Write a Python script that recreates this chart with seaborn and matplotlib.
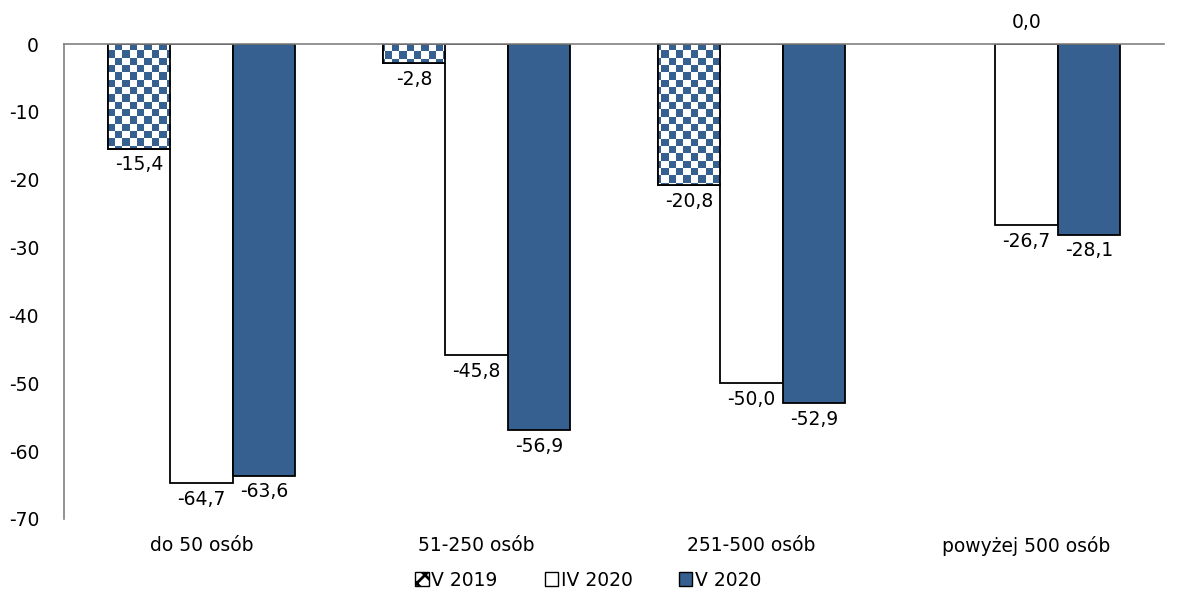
import numpy as np
import pandas as pd
import matplotlib
matplotlib.use("Agg")
import matplotlib.pyplot as plt
import matplotlib.patches as mpatches
from matplotlib.colors import ListedColormap
import seaborn as sns

categories = ["do 50 osób", "51-250 osób", "251-500 osób", "powyżej 500 osób"]
series_names = ["V 2019", "IV 2020", "V 2020"]
v2019 = [-15.4, -2.8, -20.8, 0.0]
iv2020 = [-64.7, -45.8, -50.0, -26.7]
v2020 = [-63.6, -56.9, -52.9, -28.1]
yticks = [0, -10, -20, -30, -40, -50, -60, -70]

BLUE = "#36608F"
FS = 13.5

rows = []
for name, vals in zip(series_names, [v2019, iv2020, v2020]):
    for c, v in zip(categories, vals):
        rows.append({"cat": c, "series": name, "val": v})
df = pd.DataFrame(rows)

sns.set_theme(style="white")
plt.rcParams["font.family"] = ["DejaVu Sans"]
plt.rcParams["text.color"] = "black"
plt.rcParams["xtick.color"] = "black"
plt.rcParams["ytick.color"] = "black"
plt.rcParams["hatch.color"] = BLUE
plt.rcParams["hatch.linewidth"] = 2.0

fig = plt.figure(figsize=(11.77, 6.02), dpi=100)
ax = fig.add_axes([64/1177, 1-519/602, 1100/1177, 475/602])

palette = {"V 2019": "white", "IV 2020": "white", "V 2020": BLUE}
sns.barplot(data=df, x="cat", y="val", hue="series", order=categories,
            hue_order=series_names, palette=palette, width=0.68, gap=0,
            edgecolor="black", linewidth=1.3, saturation=1, ax=ax,
            legend=False, errorbar=None)

ax.set_ylim(-70, 0)
ax.set_xlim(-0.5, 3.5)
ax.set_yticks(yticks)
ax.set_yticklabels([str(t) for t in yticks], fontsize=FS)
ax.tick_params(axis="y", length=0, pad=18, colors="black")
ax.tick_params(axis="x", length=0, pad=12, labelsize=FS, colors="black")
ax.set_xlabel("")
ax.set_ylabel("")
for s in ["right", "bottom"]:
    ax.spines[s].set_visible(False)
ax.spines["left"].set_color("#808080")
ax.spines["top"].set_color("#808080")
ax.spines["left"].set_linewidth(1.2)
ax.spines["top"].set_linewidth(1.2)

# checker pattern for V 2019
cell = 7.3
nx = int(round(1100 / cell))
ny = int(round(475 / cell))
checker = (np.add.outer(np.arange(ny), np.arange(nx)) % 2).astype(float)
cmap = ListedColormap(["white", BLUE])
for bar, v in zip(ax.containers[0], v2019):
    if v == 0:
        bar.set_linewidth(0)
        continue
    im = ax.imshow(checker, cmap=cmap, extent=(-0.5, 3.5, -70, 0), aspect="auto",
                   interpolation="nearest", zorder=bar.get_zorder() + 0.1)
    im.set_clip_path(bar)
    b = mpatches.Rectangle(bar.get_xy(), bar.get_width(), bar.get_height(),
                           facecolor="none", edgecolor="black", linewidth=1.3,
                           zorder=bar.get_zorder() + 0.2)
    ax.add_patch(b)

# data labels
for ci, (cont, vals) in enumerate(zip(ax.containers, [v2019, iv2020, v2020])):
    for i, (bar, v) in enumerate(zip(cont, vals)):
        txt = f"{v:.1f}".replace(".", ",")
        if v == 0:
            ax.text(i, 1.8, txt, ha="center", va="bottom", fontsize=FS,
                    color="black", clip_on=False)
        else:
            xc = bar.get_x() + bar.get_width() / 2
            ax.text(xc, v - 1.0, txt, ha="center", va="top", fontsize=FS,
                    color="black", clip_on=False)

handles = [
    mpatches.Patch(facecolor="white", edgecolor="black", hatch="xx", label="V 2019"),
    mpatches.Patch(facecolor="white", edgecolor="black", label="IV 2020"),
    mpatches.Patch(facecolor=BLUE, edgecolor="black", label="V 2020"),
]
leg = fig.legend(handles=handles, loc="center", bbox_to_anchor=(0.5, 1-580/602),
                 ncol=3, frameon=False, fontsize=FS, handlelength=0.7, handleheight=0.7,
                 handletextpad=0.15, columnspacing=2.5)
for t in leg.get_texts():
    t.set_color("black")

fig.savefig("out.png", dpi=100)
